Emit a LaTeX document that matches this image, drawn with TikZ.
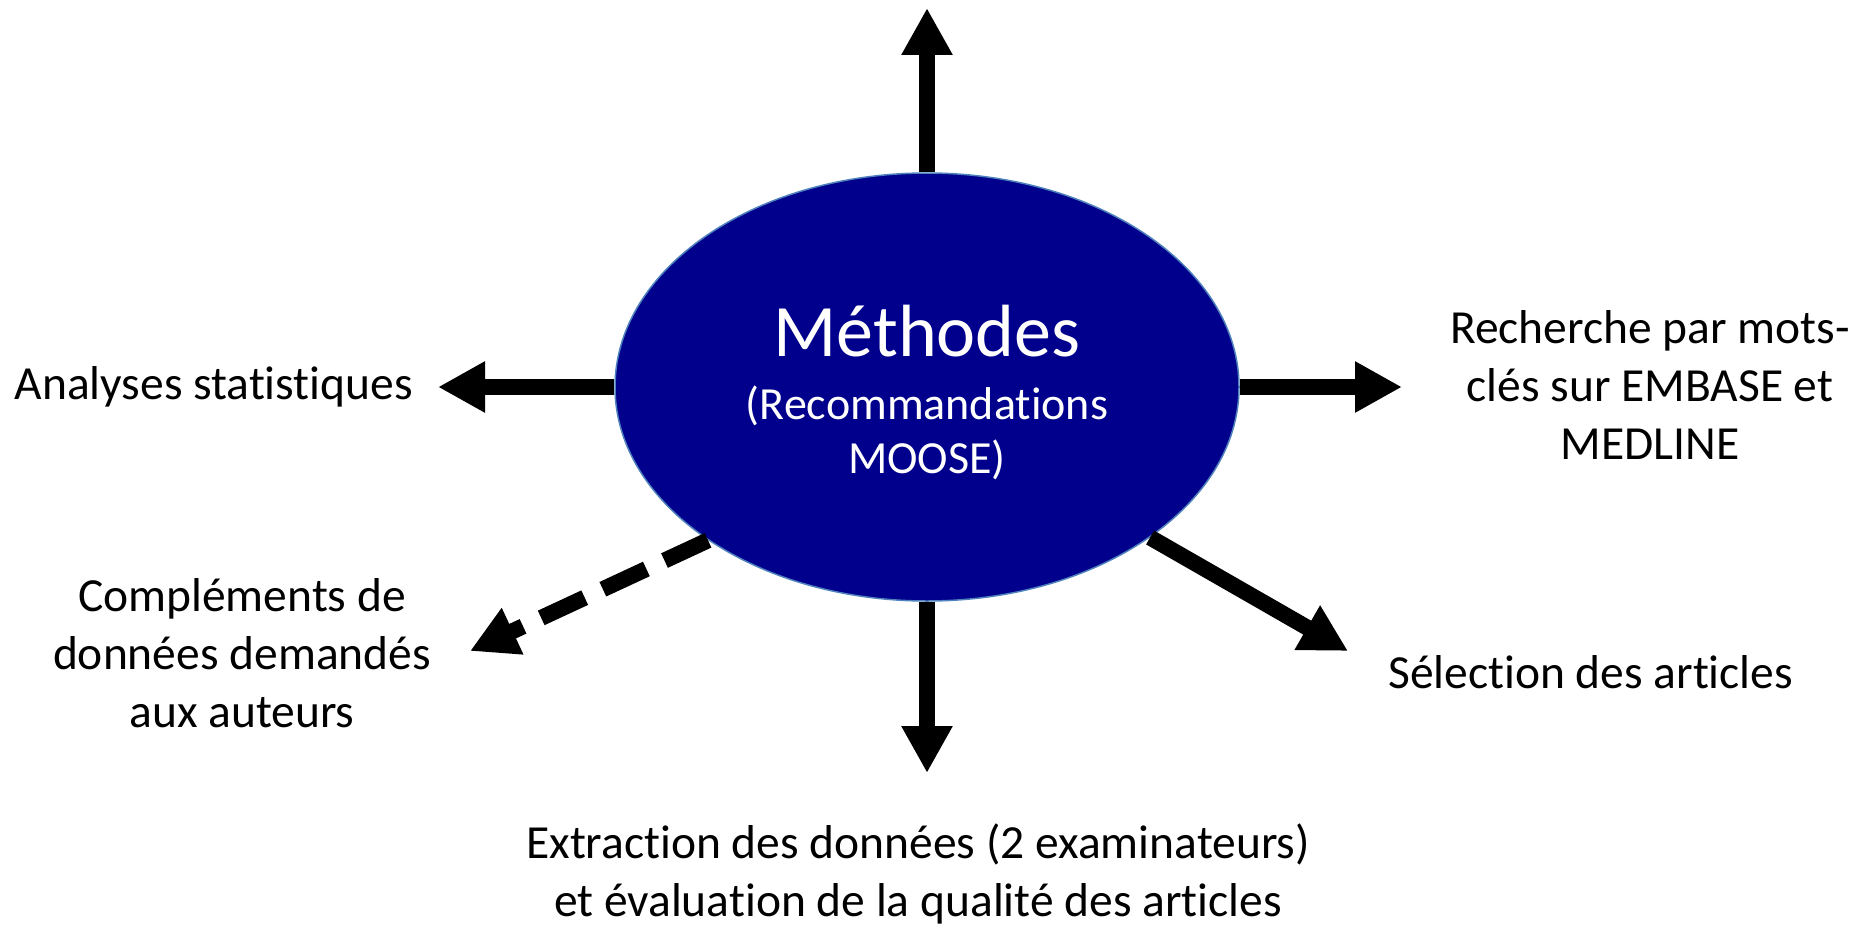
\documentclass[tikz,border=0pt]{standalone}
\usepackage{fontspec}
\setmainfont{Carlito}[Ligatures=NoCommon]
\usetikzlibrary{arrows.meta,shapes.geometric}
\definecolor{bleumeth}{RGB}{0,0,140}
\definecolor{bordmeth}{RGB}{79,129,189}

\begin{document}
\begin{tikzpicture}[x=1pt,y=-1pt,
	fleche/.style={line width=16pt,-{Triangle[width=48pt,length=47pt]}},
	texte/.style={font=\fontsize{47.5}{58}\selectfont,inner sep=0pt,align=center}]

	\useasboundingbox (0,0) rectangle (1867,931);

	% ellipse centrale
	\node[ellipse,fill=bleumeth,draw=bordmeth,line width=1.5pt,minimum width=624pt,minimum height=428pt,inner sep=0pt] (meth) at (927,387) {};
	\node[texte,text=white,font=\fontsize{74}{88}\selectfont,anchor=base] (titre) at (927,356) {Méthodes};
	\node[texte,text=white,font=\fontsize{46}{54}\selectfont,anchor=base] (moose) at (927,473) {(Recommandations\\MOOSE)};

	% bouts des fleches
	\coordinate (haut) at (927,8);
	\coordinate (bas) at (927,773);
	\coordinate (gauche) at (438,387);
	\coordinate (droite) at (1402,387);
	\coordinate (basdroite) at (1348,651);
	\coordinate (basgauche) at (470,651);

	\draw[fleche] (meth.north) -- (haut);
	\draw[fleche] (meth.south) -- (bas);
	\draw[fleche] (meth.west) -- (gauche);
	\draw[fleche] (meth.east) -- (droite);
	\draw[fleche] (meth.-34) -- (basdroite);
	\draw[fleche,dash pattern=on 48pt off 20pt] (meth.-145) -- (basgauche);

	% textes (base = derniere ligne)
	\node[texte,anchor=base east] (stat) at (413,399) {Analyses statistiques};
	\node[texte,anchor=base] (rech) at (1650,459) {Recherche par mots-\\clés sur EMBASE et\\MEDLINE};
	\node[texte,anchor=base west] (sel) at (1388,688) {Sélection des articles};
	\node[texte,anchor=base] (compl) at (242,727) {Compléments de\\données demandés\\aux auteurs};
	\node[texte,anchor=base] (extr) at (918,916) {Extraction des données (2 examinateurs)\\et évaluation de la qualité des articles};

\end{tikzpicture}
\end{document}
